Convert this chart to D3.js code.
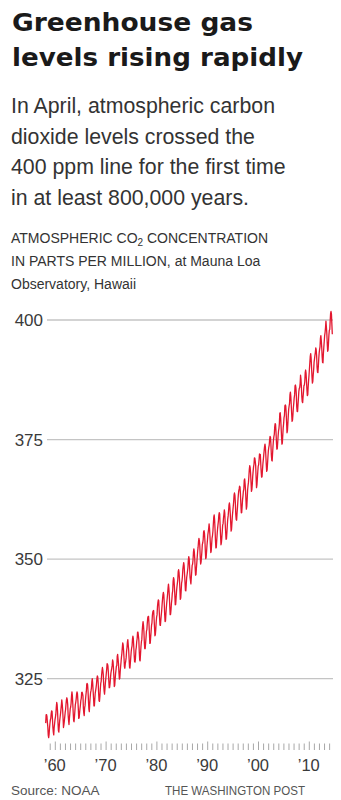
<!DOCTYPE html>
<html><head><meta charset="utf-8">
<script src="https://cdn.jsdelivr.net/npm/d3@7"></script>
<style>body{margin:0;background:#fff}svg{display:block}</style>
</head><body><svg id="c" width="341" height="800"></svg>
<script>
// Monthly mean CO2 at Mauna Loa (ppm), starting March 1958
const startYear = 1958, startMonth = 3;
const ppm1950s = [315.71,317.45,317.50,317.10,315.86,314.93,313.20,312.66,313.33,314.67,
  315.62,316.38,316.71,317.72,318.29,318.15,316.54,314.80,313.84,313.26,314.80,315.58];
const ppm1960s = [
  316.43,316.97,317.58,319.02,320.03,319.59,318.18,315.91,314.16,313.83,315.00,316.19,
  316.93,317.70,318.54,319.48,320.58,319.77,318.57,316.79,314.80,315.38,316.10,317.01,
  317.94,318.56,319.68,320.63,321.01,320.55,319.58,317.40,316.26,315.42,316.69,317.69,
  318.74,319.08,319.86,321.39,322.25,321.47,319.74,317.77,316.21,315.99,317.12,318.31,
  319.57,320.07,320.73,321.77,322.25,321.89,320.44,318.70,316.70,316.79,317.79,318.71,
  319.44,320.44,320.89,322.13,322.16,321.87,321.39,318.81,317.81,317.30,318.87,319.42,
  320.62,321.59,322.39,323.87,324.01,323.75,322.39,320.37,318.64,318.10,319.79,321.08,
  322.07,322.50,323.04,324.42,325.00,324.09,322.55,320.92,319.31,319.31,320.72,321.96,
  322.57,323.15,323.89,325.02,325.57,325.36,324.14,322.03,320.41,320.25,321.31,322.84,
  324.00,324.42,325.64,326.66,327.34,326.76,325.88,323.67,322.38,321.78,322.85,324.12];
const ppm1970s = [
  325.03,325.99,326.87,328.13,328.07,327.66,326.35,324.69,323.10,323.16,323.98,325.13,
  326.17,326.68,327.18,327.78,328.92,328.57,327.34,325.46,323.36,323.57,324.80,326.01,
  326.77,327.63,327.75,329.72,330.07,329.09,328.05,326.32,324.93,325.06,326.50,327.55,
  328.54,329.56,330.30,331.50,332.48,332.07,330.87,329.31,327.51,327.18,328.16,328.64,
  329.35,330.71,331.48,332.65,333.16,332.06,330.99,329.17,327.41,327.20,328.33,329.50,
  330.68,331.41,331.85,333.29,333.91,333.40,331.78,329.88,328.57,328.46,329.26,330.97,
  331.56,332.74,333.36,334.74,334.72,333.98,333.08,330.68,328.96,328.72,330.16,331.62,
  332.68,333.17,334.96,336.14,336.93,336.17,334.88,332.56,331.29,331.27,332.41,333.60,
  334.95,335.25,336.66,337.69,338.03,338.01,336.41,334.41,332.37,332.41,333.75,334.90,
  336.14,336.69,338.27,338.95,339.21,339.26,337.54,335.75,333.98,334.19,335.31,336.81];
const ppm1980s = [
  337.90,338.34,340.01,340.93,341.48,341.33,339.40,337.70,336.19,336.15,337.27,338.32,
  339.29,340.55,341.63,342.60,343.04,342.54,340.82,338.48,336.95,337.05,338.58,339.91,
  340.93,341.76,342.78,343.96,344.77,343.88,342.42,340.24,338.38,338.41,339.44,340.78,
  341.57,342.79,343.37,345.40,346.14,345.76,344.32,342.51,340.46,340.53,341.79,343.20,
  344.21,344.92,345.68,347.37,347.78,347.16,345.79,343.74,341.59,341.86,343.31,345.00,
  345.48,346.41,347.91,348.66,349.28,348.65,346.90,345.26,343.47,343.35,344.73,346.12,
  346.78,347.48,348.25,349.86,350.52,349.98,348.25,346.17,345.48,344.82,346.22,347.48,
  348.73,348.92,349.81,351.40,352.15,351.58,350.21,348.20,346.66,346.72,348.08,349.28,
  350.51,351.70,352.50,353.67,354.35,353.88,352.80,350.49,348.97,349.37,350.42,351.62,
  353.07,353.43,354.08,355.72,355.95,355.44,354.05,351.84,350.09,350.33,351.55,352.91];
const ppm1990s = [
  353.86,355.10,355.75,356.38,357.38,356.39,354.89,353.06,351.38,351.69,353.14,354.41,
  354.93,355.82,357.33,358.77,359.23,358.23,356.30,353.97,352.34,352.43,353.89,355.21,
  356.34,357.21,357.97,359.22,359.71,359.43,357.15,354.99,353.01,353.41,354.42,355.68,
  357.10,357.42,358.59,359.39,360.30,359.64,357.45,355.76,354.14,354.23,355.53,357.03,
  358.36,359.04,360.11,361.36,361.78,360.94,359.51,357.59,355.86,356.21,357.65,359.10,
  360.04,361.00,361.98,363.44,363.83,363.33,361.78,359.33,358.32,358.14,359.61,360.82,
  362.20,363.36,364.28,364.69,365.25,365.06,363.69,361.55,359.69,359.72,361.04,362.39,
  363.24,364.21,364.65,366.49,366.77,365.73,364.46,362.40,360.44,360.98,362.65,364.51,
  365.39,366.10,367.36,368.79,369.56,369.13,367.98,366.10,364.16,364.54,365.67,367.30,
  368.35,369.28,369.84,371.15,371.12,370.46,369.61,367.06,364.95,365.52,366.88,368.26];
const ppm2000s = [
  369.45,369.71,370.75,371.98,371.75,371.87,370.02,368.27,367.15,367.18,368.53,369.83,
  370.76,371.69,372.63,373.55,374.03,373.40,371.68,369.78,368.34,368.61,369.94,371.42,
  372.70,373.37,373.85,375.02,375.65,375.50,374.00,371.83,370.66,370.51,372.20,373.71,
  374.87,375.63,376.11,377.65,378.35,378.13,376.62,374.50,373.00,373.03,374.35,375.69,
  376.79,377.36,378.39,380.50,380.62,379.55,377.76,375.83,374.05,374.22,375.84,377.44,
  378.34,379.61,380.08,382.05,382.24,382.08,380.67,378.67,376.42,376.80,378.31,379.96,
  381.37,382.02,382.56,384.37,384.92,384.03,382.28,380.48,378.81,379.06,380.14,381.66,
  382.58,383.71,384.34,386.23,386.41,385.87,384.45,381.84,380.86,380.86,382.36,383.61,
  385.07,385.72,385.85,386.71,388.45,387.64,386.10,383.95,382.91,382.73,383.96,385.02,
  386.26,386.39,387.08,388.99,389.54,388.90,387.29,385.53,384.21,384.33,386.00,387.31];
const ppm2010s = [
  388.45,389.82,391.08,392.46,392.96,392.03,390.13,388.15,386.80,387.18,388.59,389.68,
  391.19,391.86,392.60,393.25,394.19,393.74,392.51,390.13,389.08,389.00,390.28,391.86,
  393.12,393.86,394.40,396.18,396.74,395.71,394.36,392.39,391.11,391.05,392.98,394.34,
  395.55,396.80,397.43,398.41,399.78,398.60,397.32,395.20,393.45,393.70,395.16,396.84,
  397.85,398.01,399.77,401.38,401.78,401.25,399.10,397.03];

const yTicks = [325, 350, 375, 400];
const xTickYears = [1960, 1970, 1980, 1990, 2000, 2010];
const xTickLabels = ["\u201960", "\u201970", "\u201980", "\u201990", "\u201900", "\u201910"];

const ppm = [].concat(ppm1950s, ppm1960s, ppm1970s, ppm1980s, ppm1990s, ppm2000s, ppm2010s);
const series = ppm.map((v, i) => {
  const m = startMonth - 1 + i;
  return { t: startYear + Math.floor(m / 12) + ((m % 12) + 0.5) / 12, v };
});

const svg = d3.select("#c");
const x = d3.scaleLinear().domain([1960, 2010]).range([54.8, 308.8]);
const y = d3.scaleLinear().domain([325, 400]).range([678.7, 320]);

const sans = "'Liberation Sans', Arial, sans-serif";

// Title
const title = ["Greenhouse gas", "levels rising rapidly"];
const titleW = [241, 291];
title.forEach((t, i) => {
  svg.append("text").attr("x", 12).attr("y", 31 + i * 34.5)
    .attr("font-family", "'DejaVu Sans', sans-serif").attr("font-weight", "bold")
    .attr("font-size", 25).attr("fill", "#1a1a1a")
    .attr("textLength", titleW[i]).attr("lengthAdjust", "spacingAndGlyphs")
    .text(t);
});

// Subtitle
const sub = ["In April, atmospheric carbon", "dioxide levels crossed the",
  "400 ppm line for the first time", "in at least 800,000 years."];
sub.forEach((t, i) => {
  svg.append("text").attr("x", 11).attr("y", 112.7 + i * 30.8)
    .attr("font-family", sans).attr("font-size", 21.3).attr("fill", "#333")
    .text(t);
});

// Chart label
const lab1 = svg.append("text").attr("x", 11).attr("y", 242.5)
  .attr("font-family", sans).attr("font-size", 14).attr("fill", "#333");
lab1.append("tspan").text("ATMOSPHERIC CO");
lab1.append("tspan").attr("font-size", 10).attr("dy", 3).text("2");
lab1.append("tspan").attr("dy", -3).text(" CONCENTRATION");
svg.append("text").attr("x", 11).attr("y", 265.5)
  .attr("font-family", sans).attr("font-size", 14).attr("fill", "#333")
  .text("IN PARTS PER MILLION, at Mauna Loa");
svg.append("text").attr("x", 11).attr("y", 288.5)
  .attr("font-family", sans).attr("font-size", 14).attr("fill", "#333")
  .text("Observatory, Hawaii");

// Gridlines
svg.append("g").selectAll("line").data(yTicks).join("line")
  .attr("x1", 47).attr("x2", 333)
  .attr("y1", d => y(d)).attr("y2", d => y(d))
  .attr("stroke", "#c4c4c4").attr("stroke-width", 1.3);

svg.append("g").selectAll("text").data(yTicks).join("text")
  .attr("x", 43).attr("y", d => y(d) + 6.3).attr("text-anchor", "end")
  .attr("font-family", sans).attr("font-size", 17).attr("fill", "#3a3a3a")
  .text(d => d);

// X axis ticks
const years = d3.range(1959, 2015);
const ax = svg.append("g").attr("transform", "translate(0,743.5)")
  .call(d3.axisBottom(x).tickValues(years).tickSize(6.5).tickFormat(""));
ax.select(".domain").remove();
ax.selectAll(".tick line").attr("stroke", "#a8a8a8").attr("stroke-width", 1);
ax.selectAll(".tick").filter(d => d % 10 === 0).select("line").attr("y1", -2);

svg.append("g").selectAll("text").data(xTickYears).join("text")
  .attr("x", (d) => x(d)).attr("y", 771).attr("text-anchor", "middle")
  .attr("font-family", sans).attr("font-size", 16.5).attr("fill", "#3a3a3a")
  .text((d, i) => xTickLabels[i]);

// CO2 line
const line = d3.line().x(d => x(d.t)).y(d => y(d.v));
svg.append("path").datum(series).attr("d", line)
  .attr("fill", "none").attr("stroke", "#e3172f").attr("stroke-width", 1.3)
  .attr("stroke-linejoin", "round");

// Footer
svg.append("text").attr("x", 11).attr("y", 795)
  .attr("font-family", sans).attr("font-size", 13.5).attr("fill", "#555")
  .text("Source: NOAA");
svg.append("text").attr("x", 165).attr("y", 795)
  .attr("font-family", sans).attr("font-size", 13.5).attr("fill", "#555")
  .attr("textLength", 140).attr("lengthAdjust", "spacingAndGlyphs")
  .text("THE WASHINGTON POST");
</script></body></html>
